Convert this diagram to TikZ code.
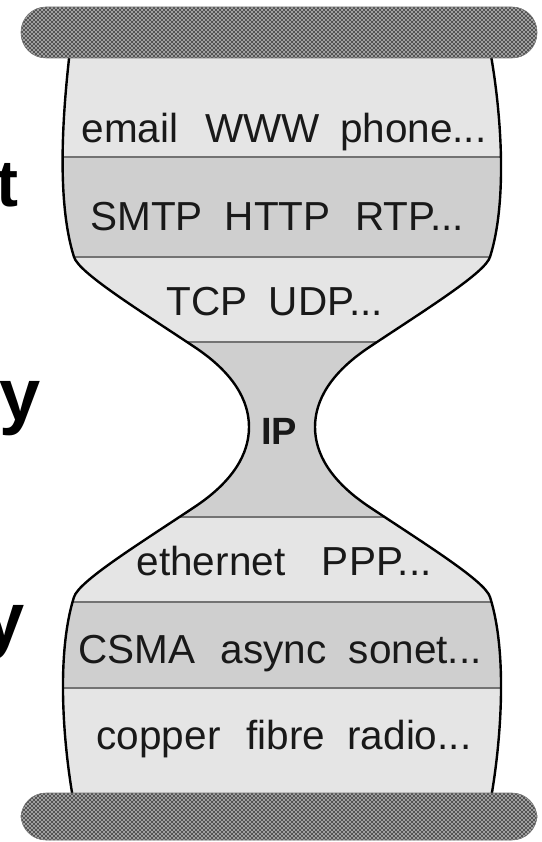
\documentclass[tikz,border=0pt]{standalone}
\usepackage{fontspec}
\setmainfont{Liberation Sans}
\usetikzlibrary{patterns}
% coarse halftone used for the ground bars
\pgfdeclarepatternformonly{halftone}{\pgfqpoint{-1pt}{-1pt}}{\pgfqpoint{5pt}{5pt}}{\pgfqpoint{4pt}{4pt}}{%
  \pgfpathcircle{\pgfqpoint{0pt}{0pt}}{1.1pt}%
  \pgfpathcircle{\pgfqpoint{2pt}{2pt}}{1.1pt}%
  \pgfusepath{fill}}
\begin{document}
\begin{tikzpicture}[x=1pt,y=-1pt,
  layer/.style={font=\fontsize{40.5pt}{40.5pt}\selectfont, text=black!90, anchor=base west, inner sep=0pt},
  sideword/.style={font=\fontsize{#1}{#1}\selectfont\bfseries, text=black, anchor=base east, inner sep=0pt},
  lightband/.style={fill=black!10},
  darkband/.style={fill=black!19},
  divider/.style={draw=black!55, line width=2.6pt},
  outline/.style={draw=black, line width=2.4pt},
  groundbar/.style={draw=black!55, line width=0.6pt, preaction={fill=black!36},
    pattern=halftone, pattern color=black!78, rounded corners=25pt}]
\useasboundingbox (0,0) rectangle (541,842);
\clip (0,0) rectangle (541,842);

% hourglass outline, symmetric about x = 282 and y = 427
\def\hourglass{(490,50)
  .. controls (501,110) and (508,200) .. (490,257)
  .. controls (485,273) and (425,310) .. (368,348)
  .. controls (331,373) and (315,400) .. (315,427)
  .. controls (315,454) and (331,481) .. (368,506)
  .. controls (425,544) and (485,581) .. (490,597)
  .. controls (508,654) and (501,744) .. (490,804)
  -- (74,804)
  .. controls (63,744) and (56,654) .. (74,597)
  .. controls (79,581) and (139,544) .. (196,506)
  .. controls (233,481) and (249,454) .. (249,427)
  .. controls (249,400) and (233,373) .. (196,348)
  .. controls (139,310) and (79,273) .. (74,257)
  .. controls (56,200) and (63,110) .. (70,50) -- cycle}

% layer bands
\begin{scope}
  \clip \hourglass;
  \fill[lightband] (40,40)  rectangle (530,157);
  \fill[darkband]  (40,157) rectangle (530,257);
  \fill[lightband] (40,257) rectangle (530,342);
  \fill[darkband]  (40,342) rectangle (530,517);
  \fill[lightband] (40,517) rectangle (530,602);
  \fill[darkband]  (40,602) rectangle (530,688);
  \fill[lightband] (40,688) rectangle (530,810);
  \foreach \yy in {157,257,342,517,602,688}
    \draw[divider] (40,\yy) -- (530,\yy);
\end{scope}
\draw[outline] \hourglass;

% ground bars at top and bottom
\draw[groundbar] (21,7) rectangle (537,58);
\draw[groundbar] (21,793) rectangle (537,840);

% layer labels
\node[layer] (app)  at (81.5,143) {email\hspace{27pt}WWW\hspace{20pt}phone...};
\node[layer] (sess) at (90.1,230) {SMTP\hspace{22.1pt}HTTP\hspace{24.4pt}RTP...};
\node[layer] (tran) at (166.1,315) {TCP\hspace{21.7pt}UDP...};
\node[layer, font=\fontsize{38pt}{38pt}\selectfont\bfseries] (ip) at (261,444) {IP};
\node[layer] (link) at (136.5,575) {ethernet\hspace{36.7pt}PPP...};
\node[layer] (mac)  at (78,663)   {CSMA\hspace{25.5pt}async\hspace{22.4pt}sonet...};
\node[layer] (phys) at (96.5,749) {copper\hspace{26.2pt}fibre\hspace{22pt}radio...};

% word endings at the left margin
\node[sideword=66pt] (endt)  at (19,207) {t};
\node[sideword=74pt] (endy1) at (41,420) {y};
\node[sideword=74pt] (endy2) at (25,644) {y};
\end{tikzpicture}
\end{document}
